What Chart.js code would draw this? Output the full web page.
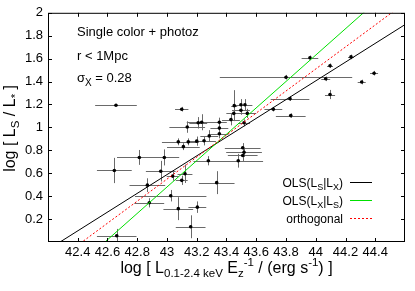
<!DOCTYPE html>
<html><head><meta charset="utf-8">
<script src="https://cdn.jsdelivr.net/npm/chart.js@4/dist/chart.umd.min.js"></script>
<style>html,body{margin:0;padding:0;background:#fff;}canvas{display:block;}</style>
</head><body>
<canvas id="c" width="415" height="291"></canvas>
<script>
// ---- data ----
const logLX = [42.657,43.099,43.136,43.076,43.110,43.143,43.452,43.497,43.524,43.497,43.540,43.430,
  43.800,43.961,44.237,44.096,44.067,44.392,44.309,44.096,43.827,43.715,43.832,43.352,43.233,43.210,
  43.352,43.284,43.249,43.200,43.352,43.509,43.518,43.509,43.479,43.278,43.121,43.099,43.334,42.814,
  42.982,42.646,42.958,43.038,42.868,43.025,42.881,43.076,43.204,43.159,42.662,43.518,43.449];
const logLS = [1.193,1.159,1.003,0.874,0.832,0.874,1.190,1.197,1.197,1.150,1.122,1.068,
  1.438,1.607,1.615,1.538,1.424,1.473,1.396,1.287,1.251,1.159,1.103,1.045,1.045,1.040,
  0.994,0.926,0.883,0.880,0.945,0.823,0.783,0.755,0.709,0.709,0.595,0.538,0.518,0.738,
  0.738,0.624,0.618,0.575,0.496,0.404,0.342,0.291,0.304,0.133,0.054,1.040,1.122];
const errLX = [0.14,0.045,0.12,0.11,0.11,0.07,0.02,0.05,0.05,0.06,0.06,0.06,
  0.445,0.056,0.02,0.02,0.03,0.027,0.027,0.034,0.13,0.06,0.1,0.05,0.1,0.06,
  0.06,0.06,0.08,0.05,0.06,0.12,0.12,0.1,0.167,0.1,0.05,0.04,0.12,0.15,
  0.1,0.117,0.1,0.04,0.12,0.24,0.1,0.1,0.06,0.1,0.133,0.04,0.05];
const errLS = [0.005,0.02,0.05,0.03,0.03,0.03,0.135,0.05,0.05,0.04,0.04,0.05,
  0.02,0.02,0.02,0.02,0.02,0.02,0.02,0.04,0.02,0.02,0.02,0.04,0.07,0.05,
  0.04,0.05,0.04,0.04,0.04,0.04,0.04,0.05,0.06,0.04,0.08,0.04,0.1,0.065,
  0.07,0.11,0.09,0.04,0.06,0.05,0.04,0.1,0.05,0.1,0.06,0.03,0.04];
const xTickValues = [42.4,42.6,42.8,43.0,43.2,43.4,43.6,43.8,44.0,44.2,44.4];
const yTickValues = [0.2,0.4,0.6,0.8,1.0,1.2,1.4,1.6,1.8,2.0];
const fitSlopes = [0.818, 1.151, 0.961];   // OLS(LS|LX), OLS(LX|LS), orthogonal
const fitZeroX  = [42.281, 42.583, 42.429]; // x where each fit crosses log LS = 0
const xRange = [42.2, 44.6];
const yRange = [0, 2];

// ---- styles ----
const FONT = '"Liberation Sans", Arial, Helvetica, sans-serif';
const fitStyles = [
  {color:'#000000', dash:[]},
  {color:'#00e000', dash:[]},
  {color:'#ff0000', dash:[2,2]}
];
const legendRows = [
  [{t:'OLS(L'},{t:'S',sub:1},{t:'|L'},{t:'X',sub:1},{t:')'}],
  [{t:'OLS(L'},{t:'X',sub:1},{t:'|L'},{t:'S',sub:1},{t:')'}],
  [{t:'orthogonal'}]
];

function richWidth(ctx, segs, size, small){
  let w=0;
  for(const s of segs){ ctx.font=((s.sub||s.sup)?small:size)+'px '+FONT; w+=ctx.measureText(s.t).width; }
  return w;
}
function drawRich(ctx, segs, x, y, size, small, align){
  const w = richWidth(ctx, segs, size, small);
  let cx = align==='right' ? x-w : align==='center' ? x-w/2 : x;
  ctx.textBaseline='alphabetic'; ctx.textAlign='left'; ctx.fillStyle='#000';
  for(const s of segs){
    const sz=(s.sub||s.sup)?small:size;
    ctx.font=sz+'px '+FONT;
    const dy = s.sub ? size*0.28 : s.sup ? -size*0.42 : 0;
    ctx.fillText(s.t, cx, y+dy);
    cx += ctx.measureText(s.t).width;
  }
}

const decorPlugin = {
  id:'decor',
  beforeDatasetsDraw(chart){
    const ctx=chart.ctx, xs=chart.scales.x, ys=chart.scales.y, a=chart.chartArea;
    ctx.save();
    ctx.beginPath(); ctx.rect(a.left,a.top,a.right-a.left,a.bottom-a.top); ctx.clip();
    ctx.strokeStyle='#6a6a6a'; ctx.lineWidth=1;
    for(let i=0;i<logLX.length;i++){
      const px=Math.round(xs.getPixelForValue(logLX[i]))+0.5, py=Math.round(ys.getPixelForValue(logLS[i]))+0.5;
      const x1=xs.getPixelForValue(logLX[i]-errLX[i]), x2=xs.getPixelForValue(logLX[i]+errLX[i]);
      const y1=ys.getPixelForValue(logLS[i]-errLS[i]), y2=ys.getPixelForValue(logLS[i]+errLS[i]);
      ctx.beginPath(); ctx.moveTo(x1,py); ctx.lineTo(x2,py); ctx.moveTo(px,y1); ctx.lineTo(px,y2); ctx.stroke();
    }
    ctx.restore();
  },
  afterDraw(chart){
    const ctx=chart.ctx, xs=chart.scales.x, ys=chart.scales.y, a=chart.chartArea;
    ctx.save();
    ctx.strokeStyle='#000'; ctx.lineWidth=1;
    ctx.strokeRect(a.left+0.5,a.top+0.5,a.right-a.left-1,a.bottom-a.top-1);
    ctx.beginPath();
    for(const v of xTickValues){
      const p=Math.round(xs.getPixelForValue(v))+0.5;
      ctx.moveTo(p,a.bottom); ctx.lineTo(p,a.bottom-4);
      ctx.moveTo(p,a.top); ctx.lineTo(p,a.top+4);
    }
    for(const v of yTickValues){
      const p=Math.round(ys.getPixelForValue(v))+0.5;
      ctx.moveTo(a.left,p); ctx.lineTo(a.left+4,p);
      ctx.moveTo(a.right,p); ctx.lineTo(a.right-4,p);
    }
    ctx.stroke();
    drawRich(ctx,[{t:'Single color + photoz'}],77,36,13,10,'left');
    drawRich(ctx,[{t:'r < 1Mpc'}],77,59.5,13,10,'left');
    drawRich(ctx,[{t:'σ'},{t:'X',sub:1},{t:' = 0.28'}],77,82,13,10,'left');
    const rowsY=[187,205,223];
    legendRows.forEach((segs,i)=>{
      drawRich(ctx,segs,343,rowsY[i],12,9,'right');
      const st=fitStyles[i];
      ctx.strokeStyle=st.color; ctx.setLineDash(st.dash); ctx.lineWidth=1;
      ctx.beginPath(); ctx.moveTo(350,rowsY[i]-4.5); ctx.lineTo(372,rowsY[i]-4.5); ctx.stroke();
      ctx.setLineDash([]);
    });
    drawRich(ctx,[{t:'log [ L'},{t:'0.1-2.4 keV',sub:1},{t:' E'},{t:'z',sub:1},{t:'-1',sup:1},{t:' / (erg s'},{t:'-1',sup:1},{t:') ]'}],
      (a.left+a.right)/2, 273, 16, 11.5, 'center');
    ctx.save();
    ctx.translate(15,(a.top+a.bottom)/2+1);
    ctx.rotate(-Math.PI/2);
    drawRich(ctx,[{t:'log [ L'},{t:'S',sub:1},{t:' / L'},{t:'*',sub:1},{t:' ]'}],0,0,16,11.5,'center');
    ctx.restore();
    ctx.restore();
  }
};

const datasets = [{
  type:'scatter', label:'clusters', order:5,
  data: logLX.map((x,i)=>({x, y:logLS[i]})),
  pointRadius:1.8, pointHoverRadius:1.8, backgroundColor:'#000', borderWidth:0, pointStyle:'circle'
}];
fitSlopes.forEach((m,i)=>{
  datasets.push({
    type:'line', label:'fit'+i, order:3-i,
    data: xRange.map(x=>({x, y:m*(x-fitZeroX[i])})),
    borderColor:fitStyles[i].color, borderDash:fitStyles[i].dash, borderWidth:1,
    pointRadius:0, fill:false, tension:0
  });
});

function fmt(v){ return String(Math.round(v*10)/10); }

new Chart(document.getElementById('c'), {
  data:{datasets},
  options:{
    responsive:false, animation:false, devicePixelRatio:1,
    layout:{padding:{left:0,top:8,right:10,bottom:0}},
    plugins:{legend:{display:false}, tooltip:{enabled:false}},
    scales:{
      x:{type:'linear', min:xRange[0], max:xRange[1],
        afterBuildTicks(s){ s.ticks = xTickValues.map(v=>({value:v})); },
        afterFit(s){ s.height = 49; },
        ticks:{autoSkip:false, maxRotation:0, padding:3, color:'#000', font:{family:FONT,size:13}, callback:v=>fmt(v)},
        grid:{display:false, drawTicks:false}, border:{display:false}},
      y:{type:'linear', min:yRange[0], max:yRange[1],
        afterBuildTicks(s){ s.ticks = yTickValues.map(v=>({value:v})); },
        afterFit(s){ s.width = 48; },
        ticks:{autoSkip:false, padding:5, color:'#000', font:{family:FONT,size:13}, callback:v=>fmt(v)},
        grid:{display:false, drawTicks:false}, border:{display:false}}
    }
  },
  plugins:[decorPlugin]
});
</script>
</body></html>
